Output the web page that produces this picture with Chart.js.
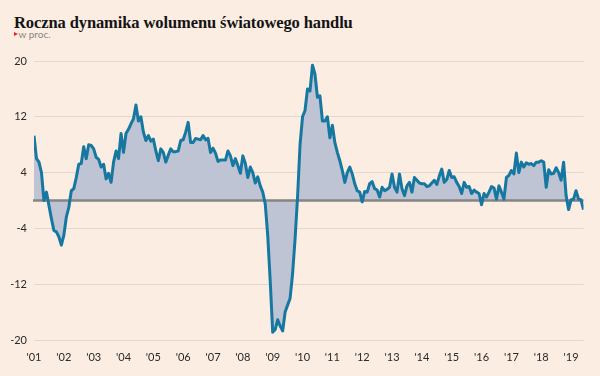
<!DOCTYPE html>
<html lang="pl">
<head>
<meta charset="utf-8">
<script src="https://cdn.jsdelivr.net/npm/chart.js@4.4.1/dist/chart.umd.min.js"></script>
<style>
  html, body { margin: 0; padding: 0; background: #fbede1; }
  #wrap { position: relative; width: 600px; height: 376px; overflow: hidden; background: #fbede1; }
  #title { position: absolute; left: 14px; top: 13px; line-height: 16px; white-space: nowrap;
           font: bold 16.5px "Liberation Serif", serif; color: #141414; letter-spacing: -0.1px; }
  #sub { position: absolute; left: 18.5px; top: 28px; line-height: 10px; white-space: nowrap;
         font: 10px Lato, sans-serif; color: #8a8580; }
  #tri { position: absolute; left: 14px; top: 32px; width: 0; height: 0;
         border-left: 4px solid #e0232b; border-top: 2.5px solid transparent; border-bottom: 2.5px solid transparent; }
  canvas { position: absolute; left: 0; top: 0; }
</style>
</head>
<body>
<div id="wrap">
  <div id="title">Roczna dynamika wolumenu światowego handlu</div>
  <div id="tri"></div>
  <div id="sub">w proc.</div>
  <canvas id="chart" width="600" height="376"></canvas>
</div>
<script>
// Etykiety osi
const yearLabels = ["'01", "'02", "'03", "'04", "'05", "'06", "'07", "'08", "'09", "'10",
                    "'11", "'12", "'13", "'14", "'15", "'16", "'17", "'18", "'19"];
const yTicks = [-20, -12, -4, 4, 12, 20];

// Dane miesięczne, styczeń 2001 - czerwiec 2019 (r/r, w proc.)
const values = [
  9.3, 6.0, 5.5, 4.0, 0.0, 1.2, -0.7, -2.6, -4.3, -4.5, -5.2, -6.4,       // 2001
  -5.0, -2.4, -1.0, 1.4, 1.7, 3.3, 5.2, 5.3, 7.7, 6.0, 8.0, 7.9,          // 2002
  7.4, 6.2, 5.9, 4.8, 5.2, 3.1, 3.9, 2.6, 5.5, 7.1, 6.0, 9.6,             // 2003
  6.9, 9.6, 10.2, 11.0, 11.7, 13.7, 11.4, 12.0, 9.8, 8.6, 9.3, 8.5,       // 2004
  8.8, 7.1, 5.7, 7.4, 6.9, 5.5, 6.5, 7.4, 7.0, 7.0, 7.1, 8.6,             // 2005
  8.7, 9.8, 11.2, 8.3, 8.3, 8.9, 8.8, 8.7, 9.3, 8.7, 8.9, 6.9,            // 2006
  7.5, 6.8, 5.6, 5.8, 5.8, 5.8, 7.1, 6.4, 5.0, 6.0, 5.0, 3.9,             // 2007
  6.4, 5.3, 3.3, 4.8, 4.0, 2.5, 3.4, 2.1, 1.2, -0.5, -5.0, -11.5,         // 2008
  -18.9, -18.5, -17.1, -18.0, -18.7, -16.0, -15.0, -14.0, -10.5, -5.5, 0.5, 8.0, // 2009
  12.0, 12.9, 16.0, 15.7, 19.4, 18.1, 14.8, 15.0, 11.4, 11.4, 12.0, 9.0,  // 2010
  10.8, 8.3, 6.9, 5.7, 4.3, 2.6, 4.0, 4.8, 3.8, 2.4, 1.4, 1.2,            // 2011
  -0.2, 1.3, 1.2, 2.4, 2.7, 1.7, 1.5, 0.5, 1.9, 1.4, 1.6, 1.9,            // 2012
  3.8, 1.9, 1.2, 3.8, 1.7, 0.7, 2.1, 2.6, 1.2, 3.3, 2.9, 2.5,             // 2013
  2.4, 2.4, 2.0, 2.1, 2.5, 2.9, 2.3, 3.5, 4.5, 2.6, 3.0, 4.3,             // 2014
  3.3, 3.4, 2.6, 2.0, 1.0, 2.6, 1.9, 2.0, 1.0, 1.5, 1.2, 1.0,             // 2015
  -0.6, 1.0, 0.5, 1.2, 2.0, 1.8, 0.2, 2.1, 1.2, 0.2, 3.3, 3.6,            // 2016
  4.3, 3.8, 6.8, 4.0, 5.5, 4.8, 5.4, 5.2, 5.3, 5.0, 5.5, 5.5,             // 2017
  5.7, 5.5, 1.9, 4.4, 3.8, 3.9, 4.7, 4.0, 2.9, 5.5, 0.7, -1.3,            // 2018
  0.1, 0.2, 1.4, 0.2, 0.1, -1.3                                           // 2019
];

const tickFont = { family: 'Lato', size: 11 };
const tickColor = '#2a2a2a';

// Linia zera rysowana nad wypełnieniem, ale pod linią danych
const zeroLine = {
  id: 'zeroLine',
  beforeDatasetsDraw(chart) {
    const { ctx, chartArea, scales } = chart;
    const y = scales.y.getPixelForValue(0);
    ctx.save();
    ctx.strokeStyle = '#858585';
    ctx.lineWidth = 2.5;
    ctx.beginPath();
    ctx.moveTo(chartArea.left - 1, y);
    ctx.lineTo(chartArea.right, y);
    ctx.stroke();
    ctx.restore();
  }
};

const ctx = document.getElementById('chart').getContext('2d');
new Chart(ctx, {
  type: 'line',
  data: {
    datasets: [{
      data: values.map((v, i) => ({ x: i, y: v })),
      borderColor: '#1677a0',
      borderWidth: 3,
      borderJoinStyle: 'round',
      backgroundColor: '#bec4d3',
      fill: 'origin',
      pointRadius: 0,
      tension: 0
    }]
  },
  options: {
    responsive: false,
    animation: false,
    layout: { padding: { top: 61, right: 16.5, bottom: 0, left: 0 } },
    plugins: {
      legend: { display: false },
      tooltip: { enabled: false },
      filler: { drawTime: 'beforeDatasetsDraw' }
    },
    scales: {
      x: {
        type: 'linear',
        min: 0,
        max: values.length - 1,
        afterBuildTicks: s => { s.ticks = yearLabels.map((l, i) => ({ value: i * 12 })); },
        afterFit: s => { s.height = 36; },
        grid: { display: false },
        border: { display: false },
        ticks: {
          padding: 3,
          autoSkip: false,
          maxRotation: 0,
          font: tickFont,
          color: tickColor,
          callback: (v, i) => yearLabels[i]
        }
      },
      y: {
        min: -20,
        max: 20,
        afterBuildTicks: s => { s.ticks = yTicks.map(v => ({ value: v })); },
        afterFit: s => { s.width = 34; },
        grid: { color: '#e2d8cc', lineWidth: 1, drawTicks: false },
        border: { display: false },
        ticks: { padding: 7, font: tickFont, color: tickColor, callback: v => v }
      }
    }
  },
  plugins: [zeroLine]
});
</script>
</body>
</html>
